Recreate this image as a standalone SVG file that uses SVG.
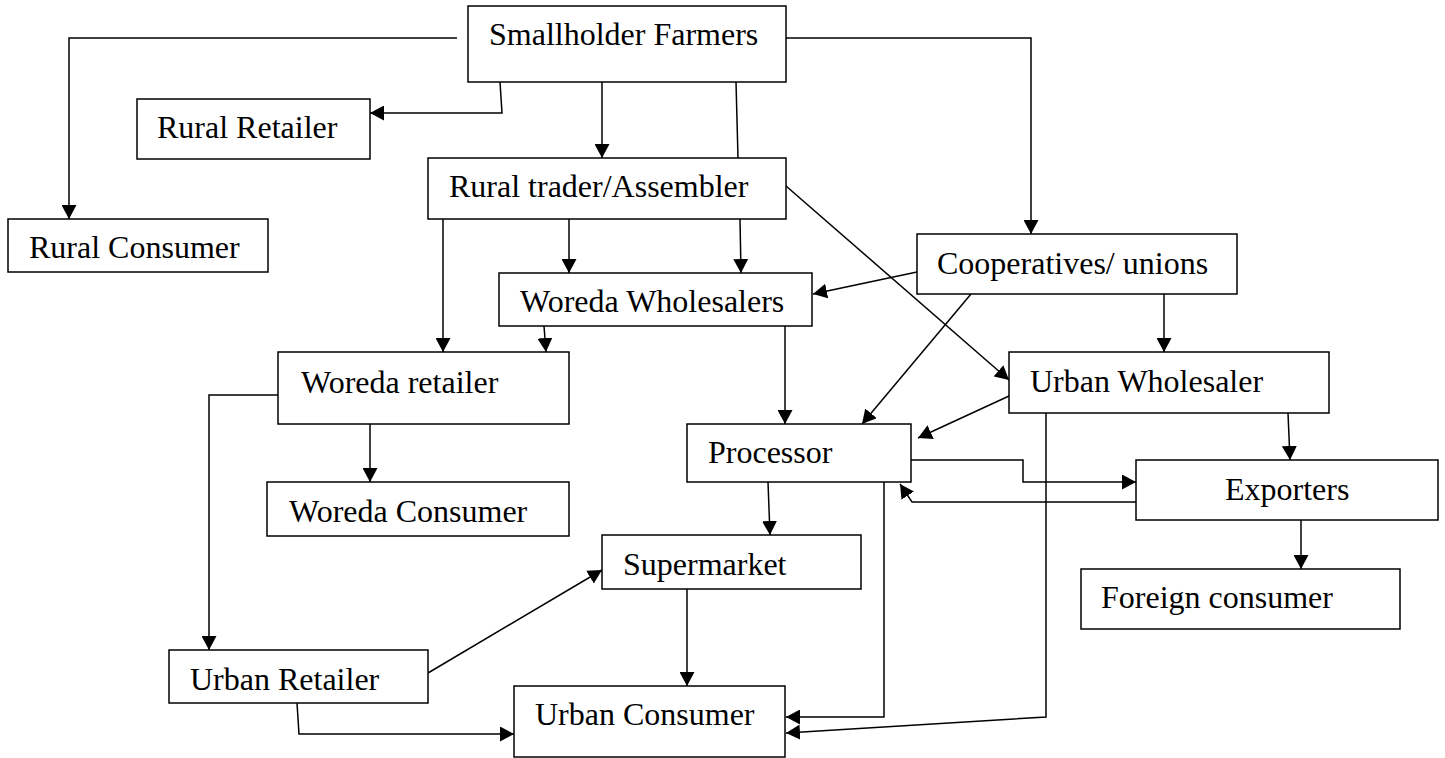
<svg xmlns="http://www.w3.org/2000/svg" width="1445" height="758" viewBox="0 0 1445 758">
<style>
.box{fill:#fff;stroke:#000;stroke-width:1.5}
.lbl{font-family:"Liberation Serif","Times New Roman",serif;font-size:32px;fill:#000}
.c{fill:none;stroke:#000;stroke-width:1.5}
.a{marker-end:url(#ah)}
</style>
<defs>
<marker id="ah" markerUnits="userSpaceOnUse" markerWidth="15" markerHeight="15" refX="14" refY="7.5" orient="auto">
<path d="M0,0 L14,7.5 L0,15 z" fill="#000"/>
</marker>
</defs>
<rect width="1445" height="758" fill="#fff"/>
<g id="connectors">
<polyline class="c a" points="457,38 69,38 69,219"/>
<polyline class="c a" points="500,82 502,113 370,113"/>
<line class="c a" x1="602" y1="82" x2="602" y2="158"/>
<line class="c" x1="736" y1="82" x2="738" y2="158"/>
<polyline class="c a" points="786,38 1031,38 1031,234"/>
<line class="c a" x1="569" y1="219" x2="569" y2="273"/>
<line class="c a" x1="740" y1="219" x2="741" y2="273"/>
<line class="c a" x1="443" y1="219" x2="443" y2="352"/>
<line class="c a" x1="786" y1="186" x2="1009" y2="380"/>
<line class="c a" x1="917" y1="272" x2="813" y2="294"/>
<line class="c a" x1="971" y1="294" x2="862" y2="424"/>
<line class="c a" x1="1164" y1="294" x2="1164" y2="352"/>
<line class="c a" x1="544" y1="326" x2="546" y2="352"/>
<line class="c a" x1="785" y1="326" x2="785" y2="424"/>
<line class="c a" x1="370" y1="424" x2="370" y2="482"/>
<polyline class="c a" points="278,395 209,395 209,650"/>
<line class="c a" x1="1009" y1="396" x2="918" y2="438"/>
<polyline class="c a" points="1046,413 1046,717 786,733"/>
<polyline class="c a" points="884,482 884,717 786,717"/>
<line class="c a" x1="768" y1="482" x2="770" y2="535"/>
<polyline class="c a" points="911,460 1023,460 1023,482 1136,482"/>
<polyline class="c a" points="1136,502 912,502 900,484"/>
<line class="c a" x1="1288" y1="413" x2="1290" y2="460"/>
<line class="c a" x1="1301" y1="520" x2="1301" y2="569"/>
<line class="c a" x1="687" y1="589" x2="687" y2="686"/>
<line class="c a" x1="428" y1="673" x2="602" y2="570"/>
<polyline class="c a" points="297,703 299,734 514,734"/>
</g>
<g id="smallholder"><rect class="box" x="468" y="6" width="318" height="76"/><text class="lbl" x="489" y="45">Smallholder Farmers</text></g>
<g id="rural-retailer"><rect class="box" x="137" y="99" width="233" height="60"/><text class="lbl" x="157" y="138">Rural Retailer</text></g>
<g id="rural-consumer"><rect class="box" x="8" y="219" width="260" height="53"/><text class="lbl" x="29" y="258">Rural Consumer</text></g>
<g id="rural-trader"><rect class="box" x="428" y="158" width="358" height="61"/><text class="lbl" x="449" y="197">Rural trader/Assembler</text></g>
<g id="woreda-wholesalers"><rect class="box" x="499" y="273" width="313" height="53"/><text class="lbl" x="520" y="312">Woreda Wholesalers</text></g>
<g id="cooperatives"><rect class="box" x="917" y="234" width="320" height="60"/><text class="lbl" x="937" y="274">Cooperatives/ unions</text></g>
<g id="urban-wholesaler"><rect class="box" x="1009" y="352" width="320" height="61"/><text class="lbl" x="1030" y="392">Urban Wholesaler</text></g>
<g id="woreda-retailer"><rect class="box" x="278" y="352" width="291" height="72"/><text class="lbl" x="301" y="393">Woreda retailer</text></g>
<g id="woreda-consumer"><rect class="box" x="267" y="482" width="302" height="54"/><text class="lbl" x="289" y="522">Woreda Consumer</text></g>
<g id="processor"><rect class="box" x="687" y="424" width="224" height="58"/><text class="lbl" x="708" y="463">Processor</text></g>
<g id="supermarket"><rect class="box" x="602" y="535" width="259" height="54"/><text class="lbl" x="623" y="575">Supermarket</text></g>
<g id="exporters"><rect class="box" x="1136" y="460" width="302" height="60"/><text class="lbl" x="1225" y="500">Exporters</text></g>
<g id="foreign-consumer"><rect class="box" x="1081" y="569" width="319" height="60"/><text class="lbl" x="1101" y="608">Foreign consumer</text></g>
<g id="urban-retailer"><rect class="box" x="169" y="650" width="259" height="53"/><text class="lbl" x="190" y="690">Urban Retailer</text></g>
<g id="urban-consumer"><rect class="box" x="514" y="686" width="271" height="71"/><text class="lbl" x="535" y="725">Urban Consumer</text></g>
</svg>
